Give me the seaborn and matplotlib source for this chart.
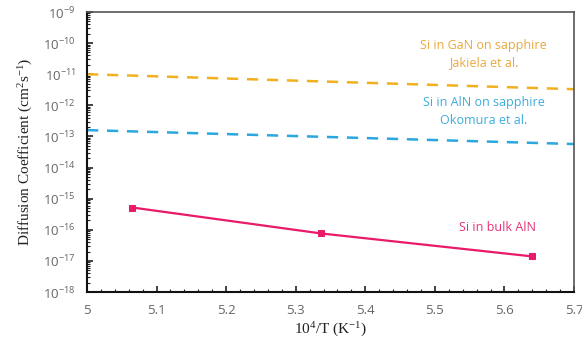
import numpy as np
import pandas as pd
import matplotlib
matplotlib.use("Agg")
import matplotlib.pyplot as plt
import matplotlib.ticker as mticker
import seaborn as sns

# ---- data ----
gan_x = [5.0, 5.7]
gan_y = [1.0e-11, 3.3e-12]
aln_x = [5.0, 5.7]
aln_y = [1.6e-13, 5.7e-14]
bulk_x = [5.065, 5.337, 5.639]
bulk_y = [5.2e-16, 7.6e-17, 1.4e-17]
x_ticks = [5.0, 5.1, 5.2, 5.3, 5.4, 5.5, 5.6, 5.7]
x_tick_labels = ["5", "5.1", "5.2", "5.3", "5.4", "5.5", "5.6", "5.7"]

sns.set_style("ticks")
plt.rcParams["font.family"] = ["Open Sans", "DejaVu Sans"]

fig = plt.figure(figsize=(5.82, 3.55), dpi=100)
ax = fig.add_axes([87 / 582, 63 / 355, 487 / 582, 280 / 355])

c_gan = "#F2B01E"
c_aln = "#2AA7DF"
c_bulk = "#EA1A6A"

df_gan = pd.DataFrame({"x": gan_x, "y": gan_y})
df_aln = pd.DataFrame({"x": aln_x, "y": aln_y})
df_bulk = pd.DataFrame({"x": bulk_x, "y": bulk_y})

sns.lineplot(data=df_gan, x="x", y="y", ax=ax, color=c_gan, lw=1.8,
             linestyle=(0, (4.5, 3.5)))
sns.lineplot(data=df_aln, x="x", y="y", ax=ax, color=c_aln, lw=1.8,
             linestyle=(0, (4.5, 3.5)))
sns.lineplot(data=df_bulk, x="x", y="y", ax=ax, color=c_bulk, lw=1.6,
             marker="s", markersize=4, markeredgecolor=c_bulk)

ax.set_yscale("log")
ax.set_xlim(5.0, 5.7)
ax.set_ylim(1e-18, 1e-9)

ax.set_xticks(x_ticks)
ax.set_xticklabels(x_tick_labels)
ax.xaxis.set_minor_locator(mticker.MultipleLocator(0.02))
ax.yaxis.set_major_locator(mticker.LogLocator(base=10, numticks=20))
ax.yaxis.set_minor_locator(mticker.LogLocator(base=10, subs=np.arange(2, 10), numticks=200))
ax.yaxis.set_major_formatter(mticker.FuncFormatter(
    lambda v, p: r"10$\mathregular{^{%d}}$" % int(round(np.log10(v)))))
ax.yaxis.set_minor_formatter(mticker.NullFormatter())

ax.tick_params(axis="both", which="major", direction="in", length=4, width=1.2,
               colors="#222222", labelcolor="#666666", labelsize=9.5, pad=8)
ax.tick_params(axis="both", which="minor", direction="in", length=2.5, width=0.8,
               colors="#222222")
ax.tick_params(axis="x", which="major", pad=9)

for s in ["left", "bottom"]:
    ax.spines[s].set_linewidth(1.5)
    ax.spines[s].set_color("#111111")
for s in ["top", "right"]:
    ax.spines[s].set_visible(True)
    ax.spines[s].set_linewidth(1.2)
    ax.spines[s].set_color("#555555")

ax.set_xlabel(r"10$\mathregular{^4}$/T (K$\mathregular{^{-1}}$)",
              family="Liberation Serif", fontsize=11, color="#222222", labelpad=2)
ax.set_ylabel(r"Diffusion Coefficient (cm$\mathregular{^2}$s$\mathregular{^{-1}}$)",
              family="Liberation Serif", fontsize=11, color="#222222", labelpad=6)

ax.text(5.57, 4.5e-11, "Si in GaN on sapphire\nJakiela et al.", color="#E8A83E",
        ha="center", va="center", fontsize=9, linespacing=1.45)
ax.text(5.57, 6.3e-13, "Si in AlN on sapphire\nOkomura et al.", color="#3AADDC",
        ha="center", va="center", fontsize=9, linespacing=1.45)
ax.text(5.59, 1.2e-16, "Si in bulk AlN", color="#E4327A",
        ha="center", va="center", fontsize=9)

fig.savefig("out.png", dpi=100)
